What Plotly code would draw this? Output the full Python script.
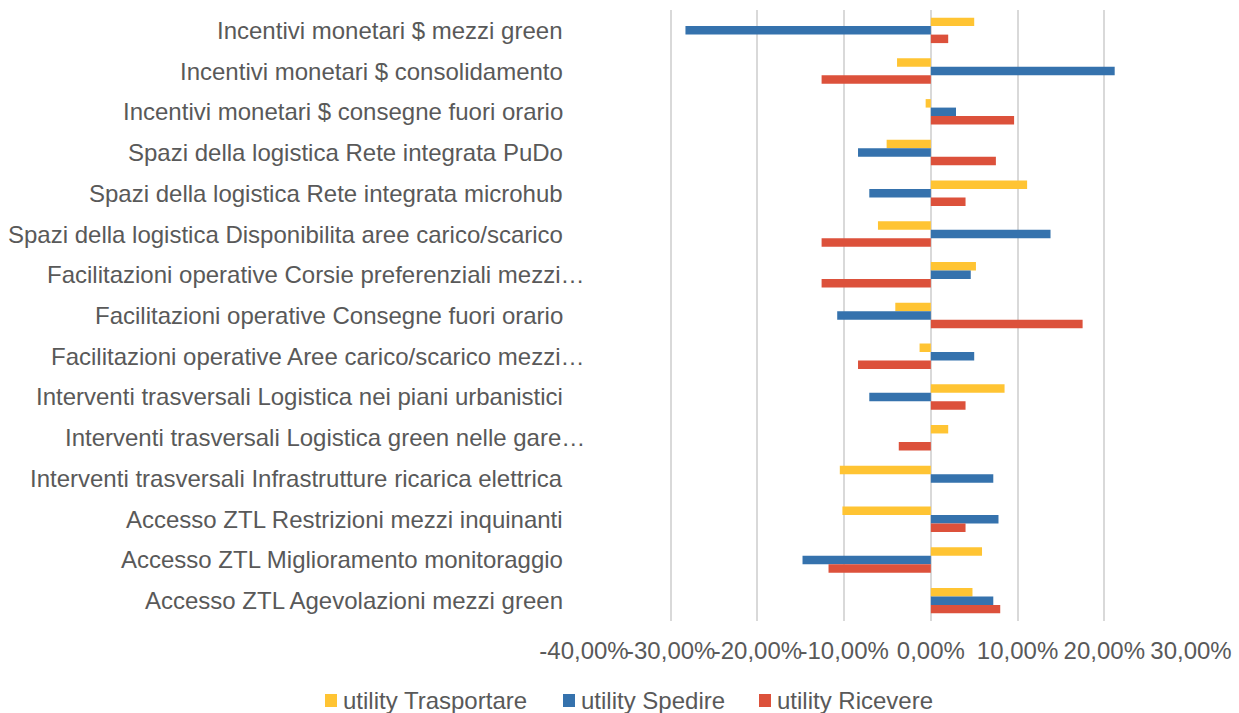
import plotly.graph_objects as go

# Categories (top to bottom)
categories = [
    "Incentivi monetari $ mezzi green",
    "Incentivi monetari $ consolidamento",
    "Incentivi monetari $ consegne fuori orario",
    "Spazi della logistica Rete integrata PuDo",
    "Spazi della logistica Rete integrata microhub",
    "Spazi della logistica Disponibilita aree carico/scarico",
    "Facilitazioni operative Corsie preferenziali mezzi…",
    "Facilitazioni operative Consegne fuori orario",
    "Facilitazioni operative Aree carico/scarico mezzi…",
    "Interventi trasversali Logistica nei piani urbanistici",
    "Interventi trasversali Logistica green nelle gare…",
    "Interventi trasversali Infrastrutture ricarica elettrica",
    "Accesso ZTL Restrizioni mezzi inquinanti",
    "Accesso ZTL Miglioramento monitoraggio",
    "Accesso ZTL Agevolazioni mezzi green",
]

# Utility values (%)
utility_trasportare = [5.0, -3.9, -0.6, -5.1, 11.1, -6.1, 5.2, -4.1, -1.3, 8.5, 2.0, -10.5, -10.2, 5.9, 4.8]
utility_spedire = [-28.3, 21.2, 2.9, -8.4, -7.1, 13.8, 4.6, -10.8, 5.0, -7.1, 0.0, 7.2, 7.8, -14.8, 7.2]
utility_ricevere = [2.0, -12.6, 9.6, 7.5, 4.0, -12.6, -12.6, 17.5, -8.4, 4.0, -3.7, 0.0, 4.0, -11.8, 8.0]

tick_values = [-40, -30, -20, -10, 0, 10, 20, 30]
tick_labels = ["-40,00%", "-30,00%", "-20,00%", "-10,00%", "0,00%", "10,00%", "20,00%", "30,00%"]

series = [
    ("utility Trasportare", utility_trasportare, "#FFC433"),
    ("utility Spedire", utility_spedire, "#3572AD"),
    ("utility Ricevere", utility_ricevere, "#DC513B"),
]

font_color = "#595959"
font_family = "Liberation Sans, Arial, sans-serif"

W, H = 1239, 713
M_L, M_R, M_T, M_B = 584, 48, 10, 92
PLOT_W, PLOT_H = W - M_L - M_R, H - M_T - M_B


def px_to_paper_x(px):
    return (px - M_L) / PLOT_W


def px_to_paper_y(py):
    return (H - M_B - py) / PLOT_H


fig = go.Figure()
for name, vals, color in series:
    fig.add_trace(go.Bar(
        y=categories, x=vals, name=name, orientation="h",
        marker=dict(color=color, line=dict(width=0)),
        showlegend=False,
    ))

# Category labels drawn as annotations so truncated names can overhang
for cat in categories:
    fig.add_annotation(
        x=0, xref="paper", y=cat, yref="y",
        text=cat, showarrow=False, xanchor="right", yanchor="middle",
        xshift=3 if cat.endswith("…") else -19,
        font=dict(family=font_family, size=24, color=font_color),
    )

# Legend row below the axis: square swatch followed by the series name
legend_swatch_left = [325, 563, 759]
legend_top, legend_bottom = 694, 707
for (name, _, color), left in zip(series, legend_swatch_left):
    fig.add_shape(
        type="rect", xref="paper", yref="paper",
        x0=px_to_paper_x(left), x1=px_to_paper_x(left + 12),
        y0=px_to_paper_y(legend_bottom), y1=px_to_paper_y(legend_top),
        fillcolor=color, line=dict(width=0),
    )
    fig.add_annotation(
        x=px_to_paper_x(left + 16), xref="paper",
        y=px_to_paper_y((legend_top + legend_bottom) / 2), yref="paper",
        text=name, showarrow=False, xanchor="left", yanchor="middle",
        font=dict(family=font_family, size=24, color=font_color),
    )

fig.update_layout(
    width=W, height=H,
    margin=dict(l=M_L, r=M_R, t=M_T, b=M_B, autoexpand=False),
    paper_bgcolor="white", plot_bgcolor="white",
    barmode="group", bargap=0.375, bargroupgap=0,
    font=dict(family=font_family, size=24, color=font_color),
    showlegend=False,
    xaxis=dict(
        range=[-40, 30], tickvals=tick_values, ticktext=tick_labels,
        showgrid=True, gridcolor="#D9D9D9", gridwidth=1.5,
        zeroline=True, zerolinecolor="#D9D9D9", zerolinewidth=1.5,
        showline=False, ticks="", ticklabelstandoff=13, tickangle=0,
        tickfont=dict(size=24, color=font_color),
    ),
    yaxis=dict(
        autorange="reversed", showgrid=False, zeroline=False, showline=False,
        ticks="", showticklabels=False,
    ),
)

fig.write_html("out.html")
